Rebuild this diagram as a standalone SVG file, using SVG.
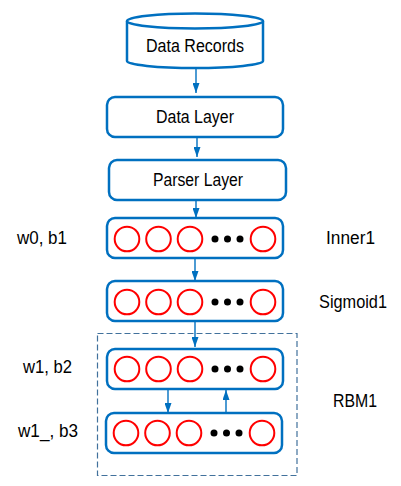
<svg xmlns="http://www.w3.org/2000/svg" width="401" height="486" viewBox="0 0 401 486">
<defs>
<style>
.box{fill:#fff;stroke:#0070C0;stroke-width:2.5}
.c{fill:none;stroke:#FF0000;stroke-width:2}
.d{fill:#000}
.t{font-family:"Liberation Sans",Arial,sans-serif;font-size:17.5px;fill:#000;dominant-baseline:central}
.m{text-anchor:middle}
.ln{stroke:#0070C0;stroke-width:1.4;fill:none}
</style>
<marker id="ah" viewBox="0 0 10 7" refX="10" refY="3.5" markerWidth="10" markerHeight="7" markerUnits="userSpaceOnUse" orient="auto">
<path d="M0,0 L10,3.5 L0,7 Z" fill="#0070C0"/>
</marker>
<g id="neurons">
<circle class="c" cx="20" cy="0" r="12.3"/>
<circle class="c" cx="51.5" cy="0" r="12.3"/>
<circle class="c" cx="83" cy="0" r="12.3"/>
<circle class="d" cx="108" cy="0" r="3.5"/>
<circle class="d" cx="120.5" cy="0" r="3.5"/>
<circle class="d" cx="133" cy="0" r="3.5"/>
<circle class="c" cx="156" cy="0" r="12.3"/>
</g>
</defs>
<rect width="401" height="486" fill="#fff"/>

<g id="rbm1-frame">
<rect x="97.5" y="333.5" width="199.5" height="142" fill="none" stroke="#41719C" stroke-width="1.2" stroke-dasharray="6,3"/>
</g>

<g id="connectors">
<line class="ln" x1="196" y1="69" x2="196" y2="93" marker-end="url(#ah)"/>
<line class="ln" x1="197" y1="138" x2="197" y2="157" marker-end="url(#ah)"/>
<line class="ln" x1="196" y1="201" x2="196" y2="218" marker-end="url(#ah)"/>
<line class="ln" x1="195" y1="259" x2="195" y2="281" marker-end="url(#ah)"/>
<line class="ln" x1="195" y1="322" x2="195" y2="347" marker-end="url(#ah)"/>
<line class="ln" x1="168" y1="390" x2="168" y2="413" marker-end="url(#ah)"/>
<line class="ln" x1="226" y1="413" x2="226" y2="390" marker-end="url(#ah)"/>
</g>

<g id="data-records">
<path class="box" d="M127,21 L127,61 A68,7 0 0 0 263,61 L263,21"/>
<ellipse class="box" cx="195" cy="21" rx="68" ry="7.5"/>
<text class="t m" x="195" y="46" textLength="98" lengthAdjust="spacingAndGlyphs">Data Records</text>
</g>

<g id="data-layer">
<rect class="box" x="107" y="97" width="176" height="40" rx="8"/>
<text class="t m" x="195" y="117" textLength="78" lengthAdjust="spacingAndGlyphs">Data Layer</text>
</g>

<g id="parser-layer">
<rect class="box" x="109" y="160" width="177" height="40" rx="8"/>
<text class="t m" x="198" y="180" textLength="90" lengthAdjust="spacingAndGlyphs">Parser Layer</text>
</g>

<g id="inner1">
<rect class="box" x="107" y="218" width="176" height="40" rx="8"/>
<use href="#neurons" x="107" y="239"/>
</g>

<g id="sigmoid1">
<rect class="box" x="107" y="281" width="176" height="40" rx="8"/>
<use href="#neurons" x="107" y="302"/>
</g>

<g id="rbm1-visible">
<rect class="box" x="107" y="349" width="176" height="40" rx="8"/>
<use href="#neurons" x="107" y="369"/>
</g>

<g id="rbm1-hidden">
<rect class="box" x="106" y="413" width="176" height="40" rx="8"/>
<use href="#neurons" x="106" y="433"/>
</g>

<g id="labels">
<text class="t" x="17" y="238" textLength="50" lengthAdjust="spacingAndGlyphs">w0, b1</text>
<text class="t" x="326" y="238" textLength="49" lengthAdjust="spacingAndGlyphs">Inner1</text>
<text class="t" x="319" y="302" textLength="68" lengthAdjust="spacingAndGlyphs">Sigmoid1</text>
<text class="t" x="23" y="367" textLength="49" lengthAdjust="spacingAndGlyphs">w1, b2</text>
<text class="t" x="333" y="401" textLength="44" lengthAdjust="spacingAndGlyphs">RBM1</text>
<text class="t" x="18" y="431" textLength="60" lengthAdjust="spacingAndGlyphs">w1_, b3</text>
</g>
</svg>
